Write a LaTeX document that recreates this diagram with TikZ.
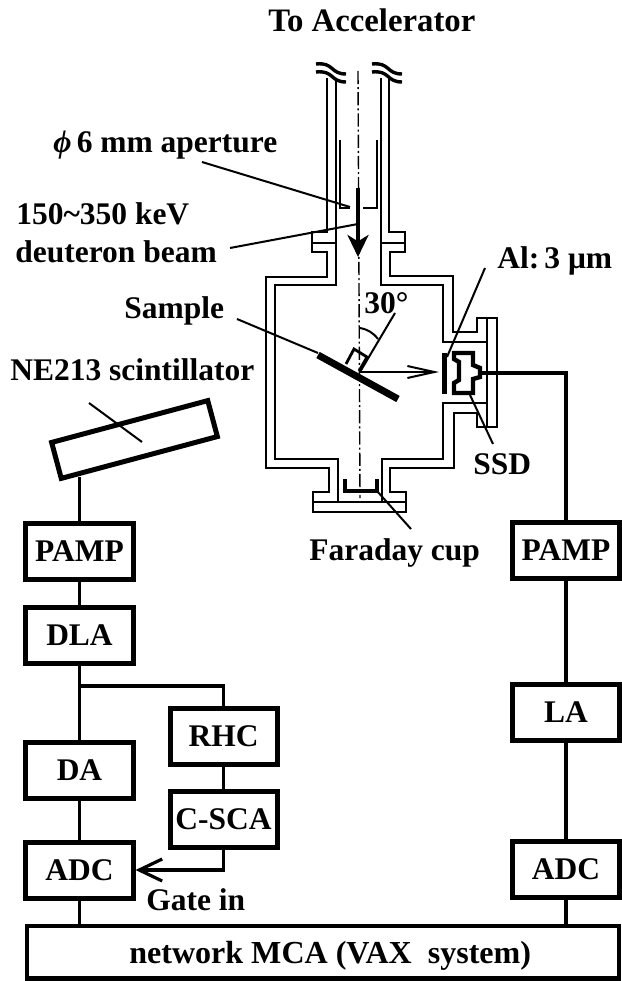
\documentclass[tikz,border=0pt]{standalone}
\usepackage{fontspec}
\setmainfont{Liberation Serif}
\usetikzlibrary{
  arrows.meta,
  positioning
}
\tikzset{
  modbox/.style={draw, line width=1.25mm, minimum width=26.75mm, minimum height=14mm, inner sep=0pt, font=\fontsize{22.4}{26}\selectfont\bfseries},
  lbl/.style={anchor=base west, inner sep=0pt, font=\fontsize{22.4}{26}\selectfont\bfseries},
  wall/.style={line width=0.7mm, line join=miter},
  leader/.style={line width=0.5mm},
  sigline/.style={line width=0.8mm},
  thickpart/.style={line width=1.1mm, line join=miter},
  axisline/.style={line width=0.35mm, dash pattern=on 3.3mm off 0.75mm on 0.5mm off 0.75mm}
}

\begin{document}
\begin{tikzpicture}[x=0.25mm, y=-0.25mm]
  \useasboundingbox (0,0) rectangle (621,981);

  % chamber
  \draw[wall] (327,78) -- (327,232) -- (312,232) -- (312,252) -- (327,252) -- (327,277) -- (266,277) -- (266,468) -- (329,468) -- (329,492) -- (313,492) -- (313,512) -- (406,512) -- (406,492) -- (390,492) -- (390,468) -- (454,468) -- (454,413) -- (477,413) -- (477,427) -- (497,427) -- (497,318) -- (477,318) -- (477,332) -- (453,332) -- (453,276) -- (390,276) -- (390,252) -- (405,252) -- (405,232) -- (389,232) -- (389,78);
  \draw[wall] (336,78) -- (336,285) -- (275,285) -- (275,459) -- (338,459) -- (338,502);
  \draw[wall] (381,78) -- (381,285) -- (443,285) -- (443,342) -- (487,342);
  \draw[wall] (382,502) -- (382,459) -- (443,459) -- (443,403) -- (487,403);
  \draw[wall] (487,318) -- (487,427);
  \draw[wall] (313,502) -- (406,502);
  \draw[wall] (312,243) -- (336,243);
  \draw[wall] (381,243) -- (405,243);
  % aperture
  \draw[wall] (340,140) -- (340,208) -- (350,208);
  \draw[wall] (363,208) -- (377,208) -- (377,140);
  % broken ends
  \foreach \bx in {316,372}{
    \draw[line width=0.85mm] (\bx,64) .. controls (\bx+18,62) and (\bx+14,74) .. (\bx+30,74);
    \draw[line width=0.85mm] (\bx,72) .. controls (\bx+18,70) and (\bx+14,82) .. (\bx+30,82);
  }
  \draw[axisline] (358,71) -- (360,498);

  % beam
  \coordinate (beamA) at (358,188);
  \coordinate (beamB) at (358,257);
  \draw[line width=0.9mm, -{Stealth[length=5.5mm, width=5.25mm, inset=1.6mm]}] (beamA) -- (beamB);

  % sample
  \coordinate (smpA) at (318,355);
  \coordinate (smpB) at (398,399);
  \coordinate (hit) at (360,372);
  \coordinate (normEnd) at (395,313);
  \coordinate (arcA) at (360,328);
  \coordinate (arcB) at (378,339);
  \coordinate (ionEnd) at (439,372);
  \draw[line width=1.75mm] (smpA) -- (smpB);
  \draw[wall] (346,364) -- (354,349) -- (367,357) -- (359,371);
  \draw[leader] (hit) -- (normEnd);
  \draw[leader] (arcA) to[bend left=20] (arcB);
  \draw[leader, -{Straight Barb[length=6.75mm, width=3mm]}] (hit) -- (ionEnd);

  % detector
  \draw[line width=1.25mm] (444,353) -- (444,394);
  \draw[thickpart] (454,353) -- (473,353) -- (473,365) -- (480,368) -- (480,377) -- (473,379) -- (473,393) -- (454,393) -- (454,383) -- (459,380) -- (459,362) -- (454,359) -- cycle;

  % faraday cup
  \draw[thickpart] (345,479) -- (345,491) -- (377,491) -- (377,479);

  % labels
  \node[lbl, font=\fontsize{23.3}{26}\selectfont\bfseries] (toacc) at (268,32) {To Accelerator};
  \node[lbl] (aper) at (53,153) {{\itshape ϕ}\,6 mm aperture};
  \node[lbl] (energy) at (16,224) {150\textasciitilde 350 keV};
  \node[lbl] (deut) at (15,262) {deuteron beam};
  \node[lbl] (smp) at (124,318) {Sample};
  \node[lbl] (ne) at (10,380) {NE213 scintillator};
  \node[lbl] (ang) at (364,313) {30°};
  \node[lbl] (alfoil) at (497,268) {Al:\,3 μm};
  \node[lbl] (ssd) at (473,474) {SSD};
  \node[lbl] (fcup) at (309,560) {Faraday cup};
  \node[lbl] (gate) at (146,910) {Gate in};

  % leaders
  \coordinate (aperA) at (202,162);
  \coordinate (aperB) at (350,207);
  \coordinate (deutA) at (230,248);
  \coordinate (deutB) at (358,224);
  \coordinate (smpLa) at (237,319);
  \coordinate (smpLb) at (318,353);
  \coordinate (alA) at (485,268);
  \coordinate (alB) at (447,357);
  \coordinate (ssdA) at (470,395);
  \coordinate (ssdB) at (493,444);
  \coordinate (cupA) at (377,491);
  \coordinate (cupB) at (411,529);
  \draw[leader] (aperA) -- (aperB);
  \draw[leader] (deutA) -- (deutB);
  \draw[leader] (smpLa) -- (smpLb);
  \draw[leader] (alA) -- (alB);
  \draw[leader] (ssdA) -- (ssdB);
  \draw[leader] (cupA) -- (cupB);

  % scintillator side
  \node[draw, line width=1.25mm, rotate=15, minimum width=40.4mm, minimum height=9.3mm, inner sep=0pt] (scint) at (134.5,439.5) {};
  \coordinate (tickA) at (89,403);
  \coordinate (tickB) at (142,442);
  \coordinate (scintOut) at (79.5,477);
  \draw[leader] (tickA) -- (tickB);
  \node[modbox] (pampL) at (79.5,551) {PAMP};
  \node[modbox, below=5.75mm of pampL] (dlaL) {DLA};
  \node[modbox, below=18.5mm of dlaL] (daL) {DA};
  \node[modbox, below=9.75mm of daL] (adcL) {ADC};
  \node[modbox] (rhc) at (223.5,736.5) {RHC};
  \node[modbox, below=5.5mm of rhc] (csca) {C-SCA};
  \coordinate (branch) at (79.5,686);
  \draw[sigline] (scintOut) -- (pampL.north);
  \draw[sigline] (pampL) -- (dlaL);
  \draw[sigline] (dlaL) -- (daL);
  \draw[sigline] (daL) -- (adcL);
  \draw[sigline] (branch) -| (rhc.north);
  \draw[sigline] (rhc) -- (csca);
  \draw[sigline, -{Straight Barb[length=5.75mm, width=5.5mm]}] (csca.south) |- (adcL.east);

  % detector side
  \node[modbox] (pampR) at (566,550.5) {PAMP};
  \node[modbox, below=25.25mm of pampR] (laR) {LA};
  \node[modbox, below=24mm of laR] (adcR) {ADC};
  \coordinate (ssdOut) at (480,373);
  \draw[sigline] (ssdOut) -| (pampR.north);
  \draw[sigline] (pampR) -- (laR);
  \draw[sigline] (laR) -- (adcR);

  % MCA
  \node[draw, line width=1.1mm, minimum width=147.9mm, minimum height=13.15mm, inner sep=0pt] (mca) at (323,952) {};
  \node[lbl, font=\fontsize{22.8}{26}\selectfont\bfseries] (mcatext) at (129,963) {network MCA (VAX\ \ system)};
  \draw[sigline] (adcL.south) -- (adcL.south |- mca.north);
  \draw[sigline] (adcR.south) -- (adcR.south |- mca.north);
\end{tikzpicture}
\end{document}
